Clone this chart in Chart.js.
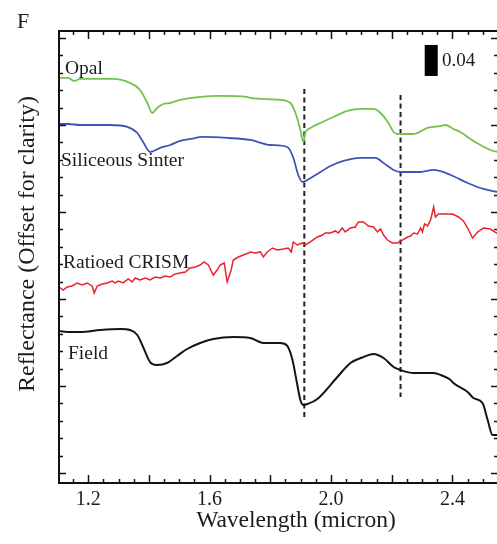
<!DOCTYPE html>
<html>
<head>
<meta charset="utf-8">
<script src="https://cdn.jsdelivr.net/npm/chart.js@4/dist/chart.umd.min.js"></script>
<style>
  html, body { margin: 0; padding: 0; background: #fff; overflow: hidden; }
  canvas { display: block; }
</style>
</head>
<body>
<canvas id="c" width="500" height="544"></canvas>
<script>
// Reflectance spectra (offset for clarity), wavelength in microns
const opalWl = [1.104,1.134,1.154,1.174,1.223,1.282,1.338,1.371,1.395,1.411,1.427,1.447,1.470,1.503,1.569,1.635,1.724,1.734,1.833,1.866,1.883,1.899,1.909,1.915,1.932,1.965,2.008,2.054,2.097,2.140,2.163,2.189,2.206,2.222,2.272,2.318,2.361,2.377,2.403,2.426,2.459,2.492,2.525,2.549];
const opalR = [0.5226,0.5226,0.5187,0.5213,0.5213,0.5213,0.5161,0.5071,0.4903,0.4774,0.4839,0.4890,0.4903,0.4942,0.4981,0.4994,0.4981,0.4968,0.4942,0.4903,0.4774,0.4555,0.4400,0.4516,0.4581,0.4645,0.4723,0.4800,0.4826,0.4826,0.4774,0.4645,0.4529,0.4503,0.4503,0.4581,0.4606,0.4619,0.4568,0.4529,0.4439,0.4361,0.4297,0.4271];

const sinterWl = [1.104,1.134,1.174,1.273,1.329,1.362,1.381,1.404,1.437,1.470,1.503,1.536,1.579,1.658,1.734,1.800,1.856,1.876,1.892,1.906,1.922,1.955,1.998,2.041,2.097,2.146,2.173,2.206,2.229,2.295,2.338,2.394,2.450,2.502,2.549];
const sinterR = [0.4632,0.4632,0.4619,0.4619,0.4594,0.4516,0.4400,0.4271,0.4323,0.4361,0.4413,0.4439,0.4465,0.4452,0.4426,0.4361,0.4335,0.4194,0.3974,0.3884,0.3910,0.3987,0.4090,0.4155,0.4194,0.4194,0.4129,0.4039,0.4013,0.4013,0.4039,0.3974,0.3871,0.3794,0.3755];

const crismWl = [1.104,1.118,1.131,1.147,1.164,1.180,1.197,1.213,1.220,1.230,
  1.246,1.263,1.279,1.289,1.299,1.315,1.332,1.345,1.355,1.371,
  1.388,1.404,1.421,1.437,1.454,1.470,1.487,1.503,1.520,1.536,
  1.553,1.569,1.582,1.596,1.612,1.625,1.635,1.648,1.658,1.671,
  1.678,1.695,1.711,1.728,1.734,1.751,1.767,1.777,1.790,1.807,
  1.823,1.843,1.859,1.869,1.876,1.889,1.906,1.915,1.932,1.955,
  1.972,1.981,1.998,2.014,2.024,2.037,2.047,2.064,2.080,2.090,
  2.107,2.123,2.140,2.153,2.163,2.173,2.186,2.202,2.219,2.235,
  2.252,2.262,2.272,2.285,2.295,2.301,2.308,2.318,2.328,2.338,
  2.344,2.354,2.377,2.400,2.420,2.436,2.450,2.466,2.483,2.502,
  2.525,2.549];
const crismR = [0.2529,0.2490,0.2529,0.2542,0.2581,0.2555,0.2581,0.2542,0.2452,0.2542,
  0.2568,0.2581,0.2606,0.2581,0.2606,0.2581,0.2632,0.2594,0.2645,0.2619,
  0.2645,0.2619,0.2658,0.2645,0.2671,0.2658,0.2697,0.2710,0.2723,0.2774,
  0.2787,0.2813,0.2852,0.2813,0.2684,0.2748,0.2813,0.2839,0.2594,0.2748,
  0.2877,0.2916,0.2942,0.2968,0.2981,0.2968,0.2981,0.2916,0.2981,0.3032,
  0.3006,0.3019,0.3032,0.2981,0.3110,0.3071,0.3097,0.3071,0.3110,0.3174,
  0.3200,0.3226,0.3226,0.3252,0.3226,0.3290,0.3239,0.3290,0.3303,0.3368,
  0.3368,0.3316,0.3303,0.3239,0.3277,0.3200,0.3135,0.3097,0.3097,0.3135,
  0.3174,0.3187,0.3226,0.3213,0.3290,0.3239,0.3342,0.3316,0.3394,0.3561,
  0.3432,0.3471,0.3471,0.3471,0.3432,0.3381,0.3290,0.3161,0.3239,0.3290,
  0.3277,0.3213];

const fieldWl = [1.104,1.141,1.174,1.240,1.306,1.338,1.362,1.381,1.404,1.427,1.460,1.493,1.526,1.569,1.612,1.678,1.734,1.777,1.833,1.856,1.873,1.889,1.899,1.909,1.922,1.955,2.021,2.064,2.107,2.140,2.173,2.206,2.229,2.272,2.338,2.361,2.394,2.403,2.450,2.469,2.499,2.516,2.532,2.549];
const fieldR = [0.1961,0.1948,0.1948,0.1974,0.1987,0.1974,0.1910,0.1755,0.1561,0.1523,0.1548,0.1639,0.1729,0.1806,0.1858,0.1884,0.1871,0.1806,0.1806,0.1768,0.1587,0.1265,0.1071,0.1006,0.1019,0.1084,0.1368,0.1548,0.1626,0.1665,0.1613,0.1497,0.1458,0.1419,0.1419,0.1394,0.1329,0.1290,0.1174,0.1097,0.1032,0.0813,0.0619,0.0619];

// Absorption band markers (micron) and their vertical extent
const bandWl = [1.912, 2.229];
const bandTop = [0.5084, 0.5006];
const bandBottom = [0.0813, 0.1110];

// Reflectance scale bar
const scaleBarWl = 2.33;
const scaleBarBase = 0.5252;
const scaleBarValue = 0.04;

// Axes
const xRange = [1.104, 2.55];
const yRange = [0, 0.5832];
const xTickLabels = ['1.2', '1.6', '2.0', '2.4'];
const xMinorStep = 0.05;
const xMajorStep = 0.2;
const yTickStart = 0.0129;
const yMinorStep = 0.02245;
const yMajorEvery = 5;

const seriesNames = ['Opal', 'Siliceous Sinter', 'Ratioed CRISM', 'Field'];

const pts = (xs, ys) => xs.map((v, i) => ({ x: v, y: ys[i] }));

const smooth = { tension: 0.3, cubicInterpolationMode: 'monotone' };

const datasets = [
  Object.assign({ label: seriesNames[0], data: pts(opalWl, opalR), borderColor: '#74c24e', borderWidth: 1.8 }, smooth),
  Object.assign({ label: seriesNames[1], data: pts(sinterWl, sinterR), borderColor: '#3f54b8', borderWidth: 1.8 }, smooth),
  { label: seriesNames[2], data: pts(crismWl, crismR), borderColor: '#e8232d', borderWidth: 1.5, tension: 0 },
  Object.assign({ label: seriesNames[3], data: pts(fieldWl, fieldR), borderColor: '#151515', borderWidth: 2 }, smooth),
];
bandWl.forEach((w, i) => {
  datasets.push({
    label: 'band' + i,
    data: [{ x: w, y: bandTop[i] }, { x: w, y: bandBottom[i] }],
    borderColor: '#222', borderWidth: 2, borderDash: [5, 3.5], borderCapStyle: 'butt'
  });
});
datasets.push({
  label: 'scale',
  data: [{ x: scaleBarWl, y: scaleBarBase }, { x: scaleBarWl, y: scaleBarBase + scaleBarValue }],
  borderColor: '#000', borderWidth: 13, borderCapStyle: 'butt'
});

const SERIF = '"Liberation Serif", "Times New Roman", serif';
const INK = '#1c1c1c';

// Frame with inward ticks on all four sides, tick labels, titles and annotations
const framePlugin = {
  id: 'frame',
  afterDatasetsDraw(chart) {
    const { ctx, chartArea: a, scales: { x, y } } = chart;
    ctx.save();
    const seg = (x1, y1, x2, y2) => { ctx.beginPath(); ctx.moveTo(x1, y1); ctx.lineTo(x2, y2); ctx.stroke(); };

    ctx.strokeStyle = '#111';
    ctx.lineWidth = 1.5;
    // x ticks (bottom and top)
    for (let i = 0; ; i++) {
      const v = Math.ceil(xRange[0] / xMinorStep) * xMinorStep + i * xMinorStep;
      if (v > xRange[1] + 1e-9) break;
      const r = v / xMajorStep;
      const major = Math.abs(r - Math.round(r)) < 1e-6;
      const len = major ? 8 : 4;
      const px = Math.round(x.getPixelForValue(v)) + 0.5;
      seg(px, a.bottom, px, a.bottom - len);
      seg(px, a.top, px, a.top + len);
    }
    // y ticks (left and right)
    for (let k = 0; ; k++) {
      const v = yTickStart + k * yMinorStep;
      if (v > yRange[1]) break;
      const len = (k % yMajorEvery === 0) ? 7 : 4;
      const py = Math.round(y.getPixelForValue(v)) + 0.5;
      seg(a.left, py, a.left + len, py);
      seg(a.right, py, a.right - len, py);
    }
    // frame
    ctx.lineWidth = 2;
    ctx.strokeRect(a.left, a.top, a.right - a.left, a.bottom - a.top);

    ctx.fillStyle = INK;
    ctx.textBaseline = 'alphabetic';
    // tick labels
    ctx.font = '20px ' + SERIF;
    ctx.textAlign = 'center';
    xTickLabels.forEach(t => ctx.fillText(t, x.getPixelForValue(parseFloat(t)), a.bottom + 22));

    // axis titles
    ctx.font = '23.5px ' + SERIF;
    ctx.fillText('Wavelength (micron)', 296, 527);
    ctx.save();
    ctx.translate(34, 244);
    ctx.rotate(-Math.PI / 2);
    ctx.font = '24px ' + SERIF;
    ctx.fillText('Reflectance (Offset for clarity)', 0, 0);
    ctx.restore();

    // series labels
    ctx.textAlign = 'left';
    ctx.font = '19.5px ' + SERIF;
    ctx.fillText(seriesNames[0], a.left + 6, 74);
    ctx.fillText(seriesNames[1], a.left + 2, 166);
    ctx.fillText(seriesNames[2], a.left + 4, 268);
    ctx.fillText(seriesNames[3], a.left + 9, 359);

    // scale bar value
    ctx.font = '19px ' + SERIF;
    ctx.fillText(scaleBarValue.toFixed(2), 442, 66);

    // panel letter
    ctx.font = '22px ' + SERIF;
    ctx.fillText('F', 17, 28);
    ctx.restore();
  }
};

new Chart(document.getElementById('c'), {
  type: 'line',
  data: { datasets },
  options: {
    responsive: false,
    animation: false,
    devicePixelRatio: 1,
    parsing: true,
    elements: { point: { radius: 0, hoverRadius: 0 } },
    layout: { padding: { left: 59, top: 31, right: 2, bottom: 61 } },
    plugins: { legend: { display: false }, tooltip: { enabled: false } },
    scales: {
      x: { type: 'linear', display: false, min: xRange[0], max: xRange[1] },
      y: { type: 'linear', display: false, min: yRange[0], max: yRange[1] }
    }
  },
  plugins: [framePlugin]
});
</script>
</body>
</html>
